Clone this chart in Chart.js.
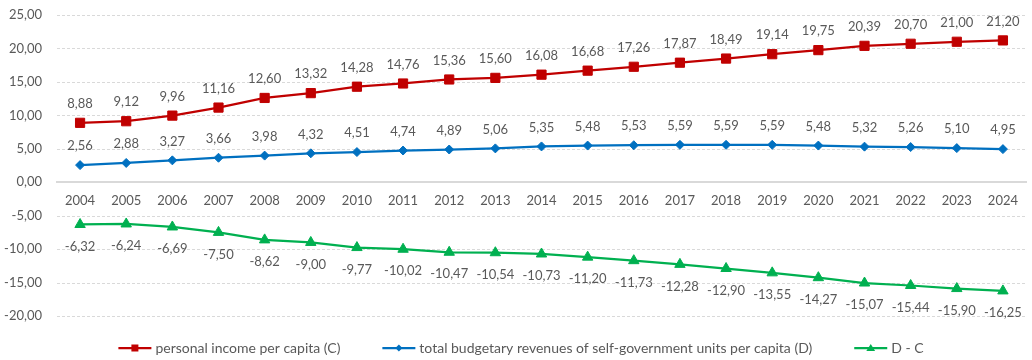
<!DOCTYPE html>
<html>
<head>
<title></title>
<script src="https://cdn.jsdelivr.net/npm/chart.js"></script>
<style>
  body { margin: 0; background: #fff; }
  #wrap { width: 1032px; height: 360px; }
</style>
</head>
<body>
<div id="wrap"><canvas id="myChart"></canvas></div>

<script>
const years = ['2004','2005','2006','2007','2008','2009','2010','2011','2012','2013','2014',
               '2015','2016','2017','2018','2019','2020','2021','2022','2023','2024'];
const incomeC = [8.88, 9.12, 9.96, 11.16, 12.60, 13.32, 14.28, 14.76, 15.36, 15.60, 16.08,
                 16.68, 17.26, 17.87, 18.49, 19.14, 19.75, 20.39, 20.70, 21.00, 21.20];
const revenuesD = [2.56, 2.88, 3.27, 3.66, 3.98, 4.32, 4.51, 4.74, 4.89, 5.06, 5.35,
                   5.48, 5.53, 5.59, 5.59, 5.59, 5.48, 5.32, 5.26, 5.10, 4.95];
const diffDC = [-6.32, -6.24, -6.69, -7.50, -8.62, -9.00, -9.77, -10.02, -10.47, -10.54, -10.73,
                -11.20, -11.73, -12.28, -12.90, -13.55, -14.27, -15.07, -15.44, -15.90, -16.25];
const seriesNames = ['personal income per capita (C)',
                     'total budgetary revenues of self-government units per capita (D)',
                     'D - C'];
const yMin = -20, yMax = 25, yStep = 5;

const FONT = 'Lato, "Open Sans", sans-serif';
const FS = 13;
const TEXT = '#595959';
const GRID = '#D9D9D9';
const fmt = v => v.toFixed(2).replace('.', ',');

function drawMarker(ctx, style, x, y, r, color) {
  ctx.fillStyle = color;
  ctx.beginPath();
  if (style === 'rect') {
    ctx.rect(x - r, y - r, 2 * r, 2 * r);
  } else if (style === 'rectRot') {
    ctx.moveTo(x, y - r); ctx.lineTo(x + r, y); ctx.lineTo(x, y + r); ctx.lineTo(x - r, y);
    ctx.closePath();
  } else {
    ctx.moveTo(x, y - r); ctx.lineTo(x + r * 1.1, y + r * 0.75); ctx.lineTo(x - r * 1.1, y + r * 0.75);
    ctx.closePath();
  }
  ctx.fill();
}

// dashed horizontal gridlines at the y ticks
const dashedGrid = {
  id: 'dashedGrid',
  beforeDatasetsDraw(chart) {
    const ctx = chart.ctx, y = chart.scales.y, area = chart.chartArea;
    ctx.save();
    ctx.strokeStyle = GRID;
    ctx.lineWidth = 1;
    ctx.setLineDash([3, 2]);
    y.ticks.forEach(t => {
      if (t.value === 0) return;
      const py = Math.round(y.getPixelForValue(t.value)) + 0.5;
      ctx.beginPath(); ctx.moveTo(area.left, py); ctx.lineTo(area.right, py); ctx.stroke();
    });
    ctx.restore();
  }
};

// value labels next to each point
const pointLabels = {
  id: 'pointLabels',
  afterDatasetsDraw(chart) {
    const ctx = chart.ctx;
    ctx.save();
    ctx.font = FS + 'px ' + FONT;
    ctx.fillStyle = TEXT;
    ctx.textAlign = 'center';
    ctx.textBaseline = 'middle';
    chart.data.datasets.forEach((ds, i) => {
      const meta = chart.getDatasetMeta(i);
      meta.data.forEach((pt, j) => {
        const below = ds.labelPos === 'below';
        ctx.fillText(fmt(ds.data[j]), pt.x, below ? pt.y + 22 : pt.y - 19);
      });
    });
    ctx.restore();
  }
};

// legend with line + marker like the original
const bottomLegend = {
  id: 'bottomLegend',
  afterDraw(chart) {
    const ctx = chart.ctx;
    ctx.save();
    ctx.font = '14px ' + FONT;
    ctx.textBaseline = 'middle';
    const lineW = 33, gap = 4, spacing = 42;
    const items = chart.data.datasets.map(ds => ({ ds, w: lineW + gap + ctx.measureText(ds.label).width }));
    const total = items.reduce((s, it) => s + it.w, 0) + spacing * (items.length - 1);
    let x = (chart.width - total) / 2 + 5;
    const y = 348;
    items.forEach(it => {
      ctx.strokeStyle = it.ds.borderColor;
      ctx.lineWidth = 2.25;
      ctx.beginPath(); ctx.moveTo(x, y); ctx.lineTo(x + lineW, y); ctx.stroke();
      drawMarker(ctx, it.ds.pointStyle, x + lineW / 2, y, it.ds.legendR, it.ds.borderColor);
      ctx.fillStyle = TEXT;
      ctx.textAlign = 'left';
      ctx.fillText(it.ds.label, x + lineW + gap, y);
      x += it.w + spacing;
    });
    ctx.restore();
  }
};

const ctx = document.getElementById('myChart');
new Chart(ctx, {
  type: 'line',
  data: {
    labels: years,
    datasets: [{
      label: seriesNames[0],
      data: incomeC,
      borderColor: '#C00000', backgroundColor: '#C00000',
      borderWidth: 2.25, pointStyle: 'rect', pointRadius: 6.5, pointBorderWidth: 1,
      labelPos: 'above', legendR: 3.5
    }, {
      label: seriesNames[1],
      data: revenuesD,
      borderColor: '#0070C0', backgroundColor: '#0070C0',
      borderWidth: 2.25, pointStyle: 'rectRot', pointRadius: 4.5, pointBorderWidth: 1,
      labelPos: 'above', legendR: 3.5
    }, {
      label: seriesNames[2],
      data: diffDC,
      borderColor: '#00B050', backgroundColor: '#00B050',
      borderWidth: 2.25, pointStyle: 'triangle', pointRadius: 6, pointBorderWidth: 1,
      labelPos: 'below', legendR: 4
    }]
  },
  options: {
    responsive: true,
    maintainAspectRatio: false,
    animation: false,
    layout: { autoPadding: false, padding: { top: 15, left: 0, right: 6, bottom: 44 } },
    plugins: {
      legend: { display: false },
      tooltip: { enabled: false }
    },
    scales: {
      x: {
        position: { y: 0 },
        offset: true,
        afterFit: s => { s.height = 0; },
        grid: { display: false, drawTicks: false },
        border: { display: true, color: GRID, width: 2 },
        ticks: { color: TEXT, font: { family: FONT, size: FS }, padding: 11, maxRotation: 0 }
      },
      y: {
        min: yMin, max: yMax,
        afterFit: s => { s.width = 57; s.paddingTop = 0; s.paddingBottom = 0; },
        grid: { display: false, drawTicks: false },
        border: { display: false },
        ticks: { stepSize: yStep, color: TEXT, font: { family: FONT, size: FS }, padding: 15,
                 callback: v => fmt(v) }
      }
    }
  },
  plugins: [dashedGrid, pointLabels, bottomLegend]
});
</script>
</body>
</html>
